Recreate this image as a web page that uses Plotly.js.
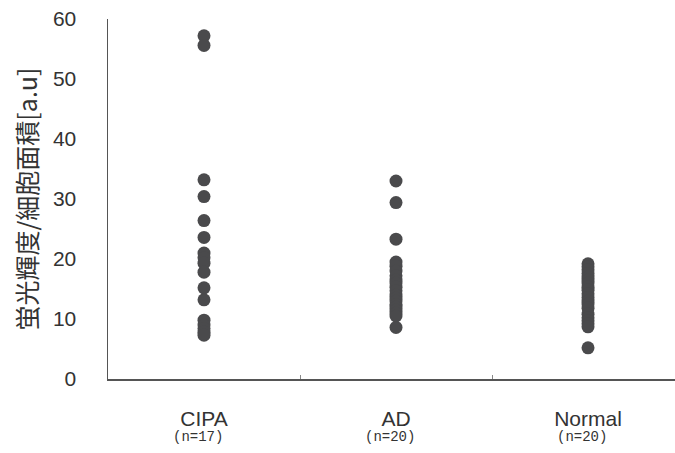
<!DOCTYPE html>
<html>
<head>
<meta charset="utf-8">
<script src="https://cdn.plot.ly/plotly-3.0.1.min.js"></script>
<style>html,body{margin:0;padding:0;background:#fff;}#chart{width:675px;height:453px;}</style>
</head>
<body>
<div id="chart"></div>
<script>
const categories = ["CIPA", "AD", "Normal"];
const counts = ["(n=17)", "(n=20)", "(n=20)"];
const cipaValues = [57.2, 55.6, 33.2, 30.4, 26.4, 23.6, 21.0, 20.2, 19.3, 17.8, 15.2, 13.2, 9.8, 9.0, 8.4, 7.8, 7.3];
const adValues = [33.0, 29.4, 23.3, 19.5, 18.8, 18.0, 17.2, 16.5, 16.0, 15.3, 14.7, 14.0, 13.5, 13.0, 12.4, 12.0, 11.5, 11.0, 10.5, 8.6];
const normalValues = [19.2, 18.7, 18.2, 17.6, 17.0, 16.5, 16.0, 15.3, 14.8, 14.2, 13.6, 13.0, 12.5, 11.8, 10.8, 10.2, 9.7, 9.2, 8.7, 5.2];
const yTicks = [0, 10, 20, 30, 40, 50, 60];
const yTitle = "蛍光輝度/細胞面積[a.u]";

const series = [cipaValues, adValues, normalValues];
const traces = series.map((vals, i) => ({
  type: "scatter",
  mode: "markers",
  x: vals.map(() => categories[i]),
  y: vals,
  marker: {size: 13, color: "#4a4a4c"},
  hoverinfo: "y",
  showlegend: false
}));

const layout = {
  width: 675, height: 453,
  margin: {l: 108, r: 0, t: 19, b: 74},
  paper_bgcolor: "#ffffff",
  plot_bgcolor: "#ffffff",
  font: {family: "Liberation Sans, Arial, sans-serif", color: "#333"},
  xaxis: {
    type: "category",
    categoryorder: "array",
    categoryarray: categories,
    range: [-0.5, 2.453],
    showgrid: false,
    zeroline: false,
    showline: true,
    linecolor: "#555",
    linewidth: 1.5,
    ticks: "inside",
    tickson: "boundaries",
    ticklen: 4,
    tickcolor: "#888",
    tickfont: {size: 21, family: "Liberation Sans, Arial, sans-serif", color: "#333"},
    ticklabelstandoff: 20
  },
  yaxis: {
    range: [0, 60],
    tickvals: yTicks,
    showgrid: false,
    zeroline: false,
    showline: true,
    linecolor: "#555",
    linewidth: 1.5,
    ticks: "",
    tickfont: {size: 21, family: "Liberation Sans, Arial, sans-serif", color: "#333"},
    ticklabelstandoff: 26,
    title: {text: yTitle, font: {size: 25, family: "Noto Sans CJK JP, sans-serif", color: "#333"}, standoff: 8}
  },
  annotations: counts.map((c, i) => ({
    x: categories[i], xref: "x",
    y: 0, yref: "paper",
    yanchor: "middle",
    yshift: -58,
    text: c,
    showarrow: false,
    font: {size: 14, family: "Liberation Mono, DejaVu Sans Mono, monospace", color: "#333"},
    xshift: -6
  }))
};

Plotly.newPlot("chart", traces, layout, {displayModeBar: false, staticPlot: true});
</script>
</body>
</html>
